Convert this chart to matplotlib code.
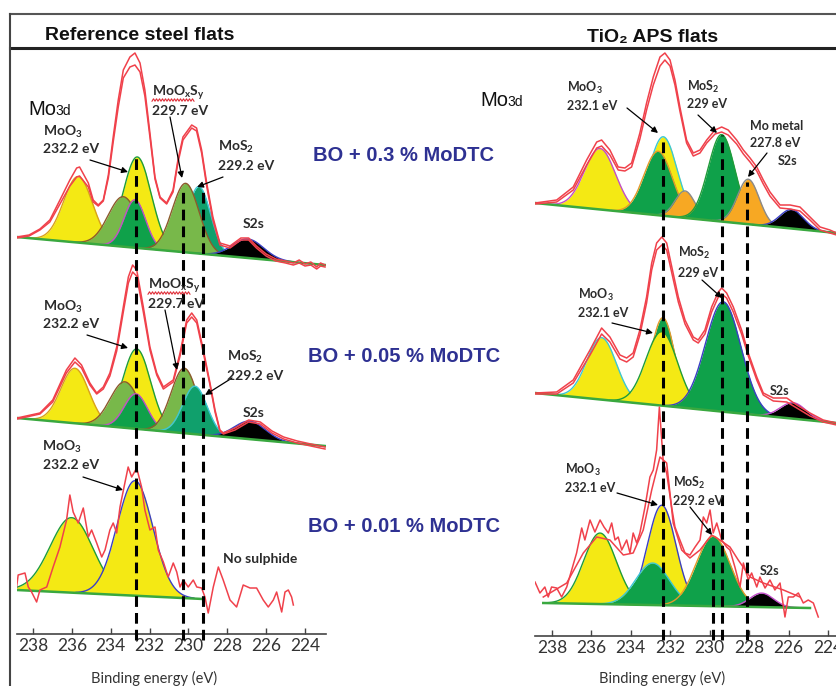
import numpy as np
import matplotlib
matplotlib.use("Agg")
import matplotlib.pyplot as plt
from matplotlib.lines import Line2D

W, H = 837, 686  # output size in px

# ---------------- data (binding energy in eV, intensity in arb. units) ----------------
ticks = [238, 236, 234, 232, 230, 228, 226, 224]

# Reference steel, BO + 0.3 % MoDTC
ref03_be = [238.84, 238.2, 237.64, 237.13, 236.61, 236.10, 235.75, 235.6, 235.15, 234.90,
            234.64, 234.38, 234.12, 233.87, 233.61, 233.35, 233.01, 232.75, 232.49, 232.24,
            231.98, 231.72, 231.46, 231.12, 230.79, 230.54, 230.28, 229.83, 229.58, 229.32,
            229.06, 228.74, 228.38, 227.86, 227.3, 226.9, 226.5, 226.0, 225.5, 225.0,
            224.6, 224.3, 224.0, 223.7, 223.4, 223.2, 222.97]
ref03_a = [397, 399, 405, 414, 434, 454, 466, 467, 451, 434, 429, 434, 459, 497, 534, 564, 577, 581, 571, 544,
           501, 457, 437, 431, 444, 474, 497, 509, 506, 484, 451, 417, 391, 388, 396, 396, 388, 380, 375, 373,
           371, 374, 370, 372, 367, 371, 369]
ref03_b = [396, 398, 404, 412, 430, 448, 457, 458, 447, 432, 428, 433, 456, 492, 527, 556, 567, 569, 562, 538,
           497, 455, 436, 430, 442, 471, 494, 506, 503, 481, 448, 414, 389, 386, 394, 394, 386, 378, 373, 371,
           369, 371, 368, 369, 365, 368, 367]
ref03_base = [(238.84, 397), (222.97, 369)]
ref03_centers = [235.67, 232.63, 233.35, 232.75, 229.46, 230.14, 226.93]
ref03_heights = [66, 91, 50, 48, 67, 69, 19]
ref03_widths = [0.75, 0.72, 0.77, 0.55, 0.6, 0.69, 0.8]

# Reference steel, BO + 0.05 % MoDTC
ref005_be = [238.82, 237.64, 236.98, 236.28, 235.84, 235.5, 235.07, 234.72, 234.38, 234.04,
             233.69, 233.35, 233.09, 232.87, 232.66, 232.32, 231.98, 231.63, 231.29, 230.78,
             230.43, 230.09, 229.83, 229.57, 229.23, 228.89, 228.63, 228.38, 228.2, 227.6,
             226.9, 226.3, 225.7, 225.1, 224.4, 223.7, 222.97]
ref005_a = [216, 221, 234, 264, 276, 269, 251, 241, 247, 261, 287, 327, 357, 369, 364, 327, 287, 261, 247, 254,
            281, 314, 321, 314, 284, 251, 224, 204, 201, 206, 214, 212, 203, 197, 193, 190, 187]
ref005_b = [215, 220, 232, 261, 272, 266, 249, 240, 245, 258, 283, 322, 351, 362, 358, 322, 284, 259, 245, 252,
            278, 311, 317, 311, 281, 249, 222, 203, 200, 204, 212, 210, 201, 195, 191, 188, 185]
ref005_base = [(238.82, 216), (222.97, 188)]
ref005_centers = [235.84, 232.66, 233.27, 232.70, 230.21, 229.66, 226.83]
ref005_heights = [55, 80, 46, 35, 65, 48, 18]
ref005_widths = [0.72, 0.72, 0.75, 0.6, 0.68, 0.62, 0.8]

# Reference steel, BO + 0.01 % MoDTC (noisy)
ref001_be = [238.84, 238.76, 238.41, 238.24, 238.07, 237.81, 237.64, 237.29, 236.96, 236.61,
             236.27, 236.10, 235.93, 235.67, 235.41, 235.15, 234.98, 234.72, 234.46, 234.29,
             234.04, 233.87, 233.69, 233.52, 233.27, 233.10, 232.92, 232.66, 232.41, 232.24,
             231.98, 231.72, 231.55, 231.29, 231.04, 230.78, 230.60, 230.43, 230.26, 230.01,
             229.75, 229.57, 229.32, 229.15, 228.98, 228.72, 228.46, 228.21, 227.86, 227.52,
             227.18, 226.83, 226.49, 226.15, 225.89, 225.63, 225.46, 225.20, 225.03, 224.86,
             224.69, 224.60]
ref001_a = [47, 59, 61, 47, 42, 32, 44, 47, 67, 87, 114, 139, 122, 111, 126, 97, 104, 91, 77, 84,
            104, 111, 101, 127, 151, 167, 157, 166, 147, 124, 104, 107, 84, 72, 57, 71, 62, 47, 54, 47,
            54, 47, 46, 37, 21, 47, 67, 54, 34, 27, 49, 46, 46, 34, 27, 34, 42, 22, 42, 44,
            37, 29]
ref001_base = [(238.84, 44), (229.25, 35)]
ref001_centers = [236.01, 232.75]
ref001_heights = [75, 115]
ref001_widths = [1.1, 0.92]

# TiO2 APS, BO + 0.3 % MoDTC
tio03_be = [238.86, 237.76, 236.92, 236.24, 235.73, 235.48, 235.06, 234.64, 234.30, 233.96,
            233.54, 233.20, 232.86, 232.52, 232.27, 232.01, 231.76, 231.51, 231.17, 230.83,
            230.49, 230.15, 229.73, 229.39, 229.06, 228.63, 228.29, 227.95, 227.61, 227.28,
            226.94, 226.43, 225.92, 225.42, 224.91, 224.40, 223.90, 223.56]
tio03_a = [433, 436, 449, 476, 494, 496, 486, 469, 468, 473, 503, 533, 559, 579, 583, 576, 556, 529, 496, 483,
           486, 496, 506, 509, 506, 496, 486, 478, 469, 456, 444, 431, 431, 429, 419, 409, 406, 403]
tio03_b = [432, 434, 446, 471, 488, 490, 481, 466, 465, 469, 497, 526, 551, 570, 576, 570, 551, 525, 493, 480,
           483, 493, 502, 504, 501, 492, 482, 474, 465, 452, 440, 428, 427, 425, 416, 406, 403, 401]
tio03_base = [(238.86, 433), (223.56, 403)]
tio03_centers = [235.56, 232.35, 232.61, 231.25, 229.39, 228.04, 225.84]
tio03_heights = [61, 79, 64, 27, 87, 45, 19]
tio03_widths = [0.79, 0.7, 0.72, 0.5, 0.68, 0.55, 0.6]

# TiO2 APS, BO + 0.05 % MoDTC
tio005_be = [238.86, 237.76, 236.92, 236.07, 235.48, 235.06, 234.55, 234.21, 233.88, 233.54,
             233.20, 232.94, 232.69, 232.43, 232.18, 231.92, 231.59, 231.25, 230.83, 230.58,
             230.24, 229.90, 229.56, 229.39, 229.14, 228.80, 228.38, 228.04, 227.61, 227.28,
             226.77, 226.09, 225.58, 224.91, 224.24, 223.56]
tio005_a = [243, 244, 256, 286, 308, 299, 281, 278, 283, 306, 339, 373, 393, 399, 393, 369, 339, 316, 299, 296,
            306, 329, 344, 348, 343, 329, 306, 283, 259, 243, 238, 238, 231, 223, 216, 213]
tio005_b = [242, 242, 253, 281, 302, 294, 277, 274, 279, 301, 333, 366, 386, 391, 386, 363, 334, 312, 296, 293,
            302, 324, 339, 342, 338, 324, 302, 280, 256, 241, 235, 234, 228, 220, 214, 211]
tio005_base = [(238.86, 243), (223.56, 213)]
tio005_centers = [235.48, 232.37, 232.43, 229.31, 225.76]
tio005_heights = [62, 88, 74, 110, 16]
tio005_widths = [0.75, 0.6, 0.8, 0.9, 0.65]

# TiO2 APS, BO + 0.01 % MoDTC (noisy + smoothed)
tio001_be = [238.86, 238.61, 238.36, 238.19, 238.02, 237.76, 237.51, 237.25, 237.00, 236.75,
             236.49, 236.33, 236.07, 235.82, 235.56, 235.36, 235.14, 234.97, 234.80, 234.64,
             234.46, 234.21, 234.04, 233.88, 233.70, 233.54, 233.28, 233.03, 232.86, 232.69,
             232.55, 232.35, 232.18, 231.93, 231.76, 231.51, 231.25, 231.00, 230.74, 230.49,
             230.32, 230.15, 229.98, 229.82, 229.64, 229.39, 229.14, 228.97, 228.72, 228.46,
             228.29, 228.04, 227.87, 227.61, 227.45, 227.19, 226.94, 226.69, 226.43, 226.18,
             226.01, 225.76, 225.50, 225.25, 225.00, 224.74, 224.49]
tio001_a = [54, 43, 49, 39, 49, 48, 39, 49, 66, 83, 108, 96, 116, 104, 116, 109, 103, 113, 96, 99,
            86, 96, 83, 103, 93, 103, 129, 159, 166, 186, 229, 173, 163, 129, 109, 96, 83, 81, 89, 96,
            119, 113, 126, 103, 113, 96, 89, 86, 69, 49, 73, 56, 63, 49, 59, 48, 56, 46, 53, 19,
            39, 39, 43, 33, 36, 33, 19]
tio001_smooth_be = [238.44, 237.25, 236.41, 235.73, 235.06, 234.38, 233.88, 233.37, 232.94, 232.52,
                    232.18, 231.85, 231.42, 231.00, 230.49, 229.90, 229.48, 228.97, 228.55, 227.95,
                    227.28, 226.26, 225.42]
tio001_smooth = [39, 53, 83, 99, 96, 81, 83, 106, 146, 179, 173, 113, 86, 78, 86, 101, 96, 89, 76, 59,
                 53, 46, 39]
tio001_base = [(238.44, 33), (224.91, 28)]
tio001_centers = [235.56, 232.43, 232.89, 229.82, 227.36]
tio001_heights = [71, 100, 42, 70, 14]
tio001_widths = [0.83, 0.72, 0.85, 0.86, 0.6]

# dashed guide lines: position (eV) and top (intensity)
ref_guides = [232.70, 230.28, 229.25]
ref_guide_tops = [479, 446, 446]
tio_guides = [232.39, 229.37, 228.13, 229.85]
tio_guide_tops = [498, 501, 454, 96]

# ---------------- style ----------------
RED = "#f0414b"
Y, LG, DG, TL, OR, BK = "#f4e914", "#78b84a", "#0fa14a", "#10a06c", "#f7a823", "#000000"
BROWN, MAG, CYAN, GRN, BLU, ORE, GRY = "#8c5a2c", "#c14fc9", "#3cc7d6", "#1f9c3a", "#3a3fc4", "#e39a2a", "#8a8a8a"

plt.rcParams["mathtext.fontset"] = "custom"
plt.rcParams["mathtext.rm"] = "Lato:bold"
plt.rcParams["mathtext.it"] = "Lato:bold"
plt.rcParams["mathtext.bf"] = "Lato:bold"

fig = plt.figure(figsize=(W / 100, H / 100), dpi=100)
axL = fig.add_axes([17 / W, (H - 634) / H, 309 / W, 584 / H])
axR = fig.add_axes([535 / W, (H - 636) / H, 302 / W, 586 / H])
axL.set_xlim(238.82, 222.92)
axR.set_xlim(238.86, 223.54)
axL.set_ylim(0, 584)
axR.set_ylim(0, 586)


def draw_spec(ax, base, centers, heights, widths, fills, edges, traces):
    (b0, i0), (b1, i1) = base
    be = np.linspace(b1, b0, 900)
    bl = np.interp(be, [b1, b0], [i1, i0])
    for c, h, s, fc, ec in zip(centers, heights, widths, fills, edges):
        m = np.abs(be - c) < 3.3 * s
        top = bl[m] + h * np.exp(-0.5 * ((be[m] - c) / s) ** 2)
        ax.fill_between(be[m], bl[m], top, color=fc, lw=0, zorder=2)
        ax.plot(be[m], top, color=ec, lw=1.0, zorder=2)
    ax.plot(be, bl, color="#39a83f", lw=1.8, zorder=2)
    for x, y in traces:
        ax.plot(x, y, color=RED, lw=1.1, zorder=3)


draw_spec(axL, ref03_base, ref03_centers, ref03_heights, ref03_widths,
          [Y, Y, LG, DG, TL, LG, BK], ["#d9a21b", GRN, BROWN, MAG, CYAN, BROWN, BLU],
          [(ref03_be, ref03_a), (ref03_be, ref03_b)])
draw_spec(axL, ref005_base, ref005_centers, ref005_heights, ref005_widths,
          [Y, Y, LG, DG, LG, TL, BK], ["#d9a21b", GRN, BROWN, MAG, BROWN, CYAN, BLU],
          [(ref005_be, ref005_a), (ref005_be, ref005_b)])
draw_spec(axL, ref001_base, ref001_centers, ref001_heights, ref001_widths,
          [Y, Y], [GRN, BLU], [(ref001_be, ref001_a)])

draw_spec(axR, tio03_base, tio03_centers, tio03_heights, tio03_widths,
          [Y, Y, DG, OR, DG, OR, BK], [MAG, CYAN, ORE, GRY, GRN, GRY, BLU],
          [(tio03_be, tio03_a), (tio03_be, tio03_b)])
draw_spec(axR, tio005_base, tio005_centers, tio005_heights, tio005_widths,
          [Y, DG, Y, DG, BK], [CYAN, ORE, GRN, BLU, MAG],
          [(tio005_be, tio005_a), (tio005_be, tio005_b)])
draw_spec(axR, tio001_base, tio001_centers, tio001_heights, tio001_widths,
          [Y, Y, DG, DG, BK], [GRN, BLU, CYAN, ORE, MAG],
          [(tio001_be, tio001_a), (tio001_smooth_be, tio001_smooth)])

axL.vlines(ref_guides, -6, ref_guide_tops, colors="k", lw=2.2, linestyles=(0, (3.5, 2)), zorder=5, clip_on=False)
axR.vlines(tio_guides, -4, tio_guide_tops, colors="k", lw=2.2, linestyles=(0, (3.5, 2)), zorder=5, clip_on=False)

for ax in (axL, axR):
    ax.patch.set_visible(False)
    for s in ("left", "right", "top"):
        ax.spines[s].set_visible(False)
    ax.spines["bottom"].set_color("#444444")
    ax.spines["bottom"].set_linewidth(1.2)
    ax.set_yticks([])
    ax.set_xticks(ticks)
    ax.tick_params(axis="x", direction="in", length=4, width=1, color="#444444",
                   labelsize=12.5, labelcolor="#333333", pad=3)
    for t in ax.get_xticklabels():
        t.set_fontfamily("Lato")


# ---------------- text, arrows, frame ----------------
def fxy(px, py):
    return px / W, 1 - py / H


def lab(px, py, s, size=10, **kw):
    fig.text(*fxy(px, py), s, fontsize=size, fontfamily="Lato", fontweight="bold",
             color="#2b2b2b", va="baseline", ha="left", **kw)


def arrow(tail, head):
    fig.add_artist(plt.Annotation("", xy=fxy(*head), xycoords="figure fraction",
                                  xytext=fxy(*tail), textcoords="figure fraction",
                                  arrowprops=dict(arrowstyle="-|>", color="k", lw=0.9,
                                                  mutation_scale=9, shrinkA=0, shrinkB=0)))


def squiggle(x0, x1, py):
    # red spell-check underline under MoOxSy
    xs = np.arange(x0, x1 + 1, 1.5)
    ys = py + 1.2 * (-1) ** np.arange(len(xs))
    fig.add_artist(Line2D(xs / W, 1 - ys / H, color="#e0303a", lw=0.8))


# left panel labels
lab(43, 136, "MoO$_3$"); lab(43, 153, "232.2 eV")
lab(152, 96, "MoO$_x$S$_y$"); lab(152, 115, "229.7 eV")
lab(218, 151, "MoS$_2$"); lab(218, 170, "229.2 eV")
lab(243, 228, "S2s")
lab(43, 311, "MoO$_3$"); lab(43, 328, "232.2 eV")
lab(148, 289, "MoO$_x$S$_y$"); lab(148, 308, "229.7 eV")
lab(227, 361, "MoS$_2$"); lab(227, 380, "229.2 eV")
lab(243, 417, "S2s")
lab(42, 451, "MoO$_3$"); lab(43, 469, "232.2 eV")
lab(223, 563, "No sulphide")
squiggle(152, 194, 100)
squiggle(148, 190, 293)
arrow((90, 160), (128, 172)); arrow((170, 117), (182, 178)); arrow((223, 177), (197, 187))
arrow((87, 335), (128, 348)); arrow((165, 310), (177, 370)); arrow((232, 378), (205, 395))
arrow((83, 477), (123, 490))

# right panel labels
lab(567, 92, "MoO$_3$", 9); lab(567, 110, "232.1 eV", 9)
lab(687, 91, "MoS$_2$", 9); lab(687, 108, "229 eV", 9)
lab(750, 130, "Mo metal", 9); lab(750, 147, "227.8 eV", 9); lab(778, 165, "S2s", 9)
lab(678, 257, "MoS$_2$", 9); lab(678, 277, "229 eV", 9)
lab(578, 299, "MoO$_3$", 9); lab(578, 317, "232.1 eV", 9)
lab(770, 395, "S2s", 9)
lab(565, 474, "MoO$_3$", 9); lab(565, 492, "232.1 eV", 9)
lab(673, 487, "MoS$_2$", 9); lab(673, 505, "229.2 eV", 9)
lab(760, 575, "S2s", 9)
arrow((627, 108), (658, 133)); arrow((698, 115), (717, 133)); arrow((767, 153), (748, 177))
arrow((702, 280), (722, 298)); arrow((612, 323), (653, 333))
arrow((617, 493), (658, 505)); arrow((690, 507), (712, 535))

# sample labels
for py, s in [(161, "BO + 0.3 % MoDTC"), (362, "BO + 0.05 % MoDTC"), (532, "BO + 0.01 % MoDTC")]:
    fig.text(*fxy(404, py), s, fontsize=14.5, fontfamily="Liberation Sans", fontweight="bold",
             color="#2e3192", ha="center", va="baseline")

# Mo3d
for x, y in [(28, 115), (480, 106)]:
    fig.text(*fxy(x, y), "Mo", fontsize=14.5, fontfamily="Liberation Sans", color="#111111", va="baseline")
    fig.text(*fxy(x + 27, y), "3d", fontsize=10, fontfamily="Liberation Sans", color="#111111", va="baseline")

# headers
fig.text(*fxy(45, 40), "Reference steel flats", fontsize=14, fontfamily="Liberation Sans",
         fontweight="bold", color="#111111", va="baseline")
fig.text(*fxy(587, 42), "TiO\u2082 APS flats", fontsize=14, fontfamily=["Liberation Sans", "DejaVu Sans"],
         fontweight="bold", color="#111111", va="baseline")

# axis titles
for x in (154, 662):
    fig.text(*fxy(x, 683), "Binding energy (eV)", fontsize=10.5, fontfamily="Lato",
             color="#333333", ha="center", va="baseline")

# frame lines
fig.add_artist(Line2D([10 / W, 1], [1 - 14 / H] * 2, color="#555555", lw=1.5))
fig.add_artist(Line2D([10 / W, 1], [1 - 48 / H] * 2, color="#222222", lw=2.2))
fig.add_artist(Line2D([10 / W] * 2, [0, 1 - 14 / H], color="#444444", lw=1.5))

fig.savefig("out.png", dpi=100)
